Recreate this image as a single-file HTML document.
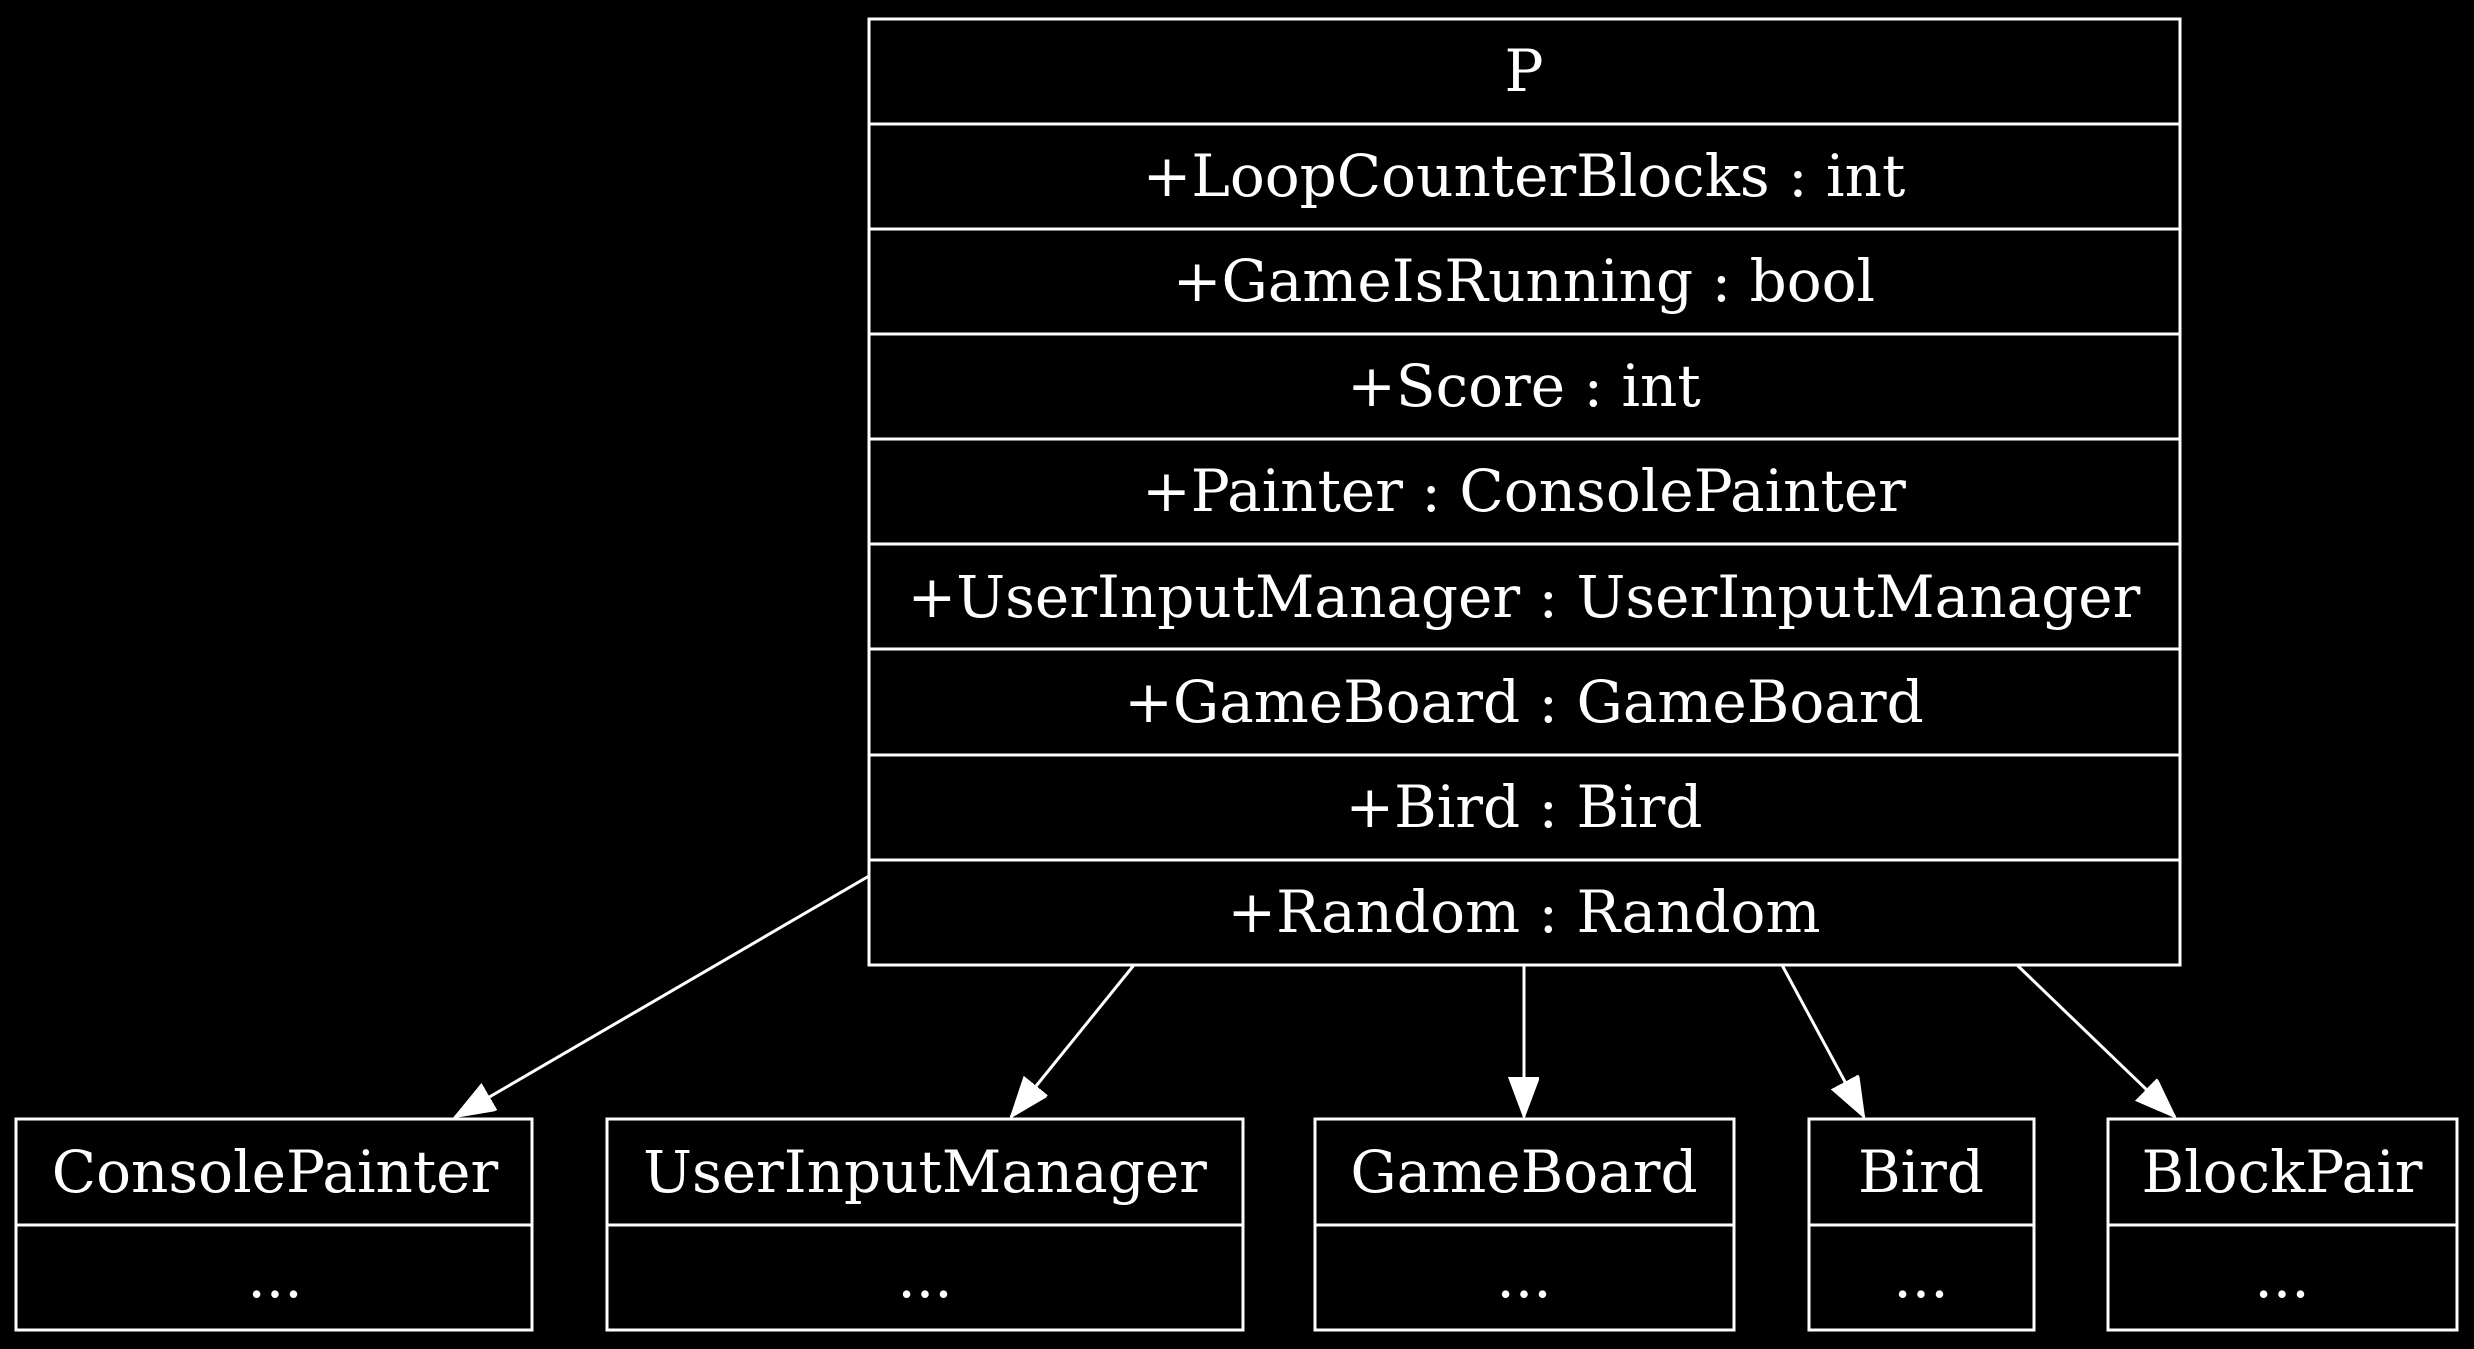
<!DOCTYPE html>
<html><head><meta charset="utf-8"><style>
html,body{margin:0;padding:0;background:#000;}
svg{display:block;}
text{font-family:"DejaVu Serif","Liberation Serif",serif;fill:#fff;font-size:58px;text-anchor:middle;}
</style></head><body>
<svg width="2474" height="1349" viewBox="0 0 2474 1349" xmlns="http://www.w3.org/2000/svg">
<rect width="2474" height="1349" fill="#000"/>
<defs>
<marker id="ah" markerUnits="userSpaceOnUse" markerWidth="44" markerHeight="34" refX="40" refY="15" orient="auto">
<path d="M0,0 L40,15 L0,30 Z" fill="#fff" stroke="#fff" stroke-width="2"/>
</marker>
</defs>
<g fill="none" stroke="#fff" stroke-width="3">
<rect x="869" y="19" width="1311" height="946"/>
<line x1="869" y1="124" x2="2180" y2="124"/>
<line x1="869" y1="229" x2="2180" y2="229"/>
<line x1="869" y1="334" x2="2180" y2="334"/>
<line x1="869" y1="439" x2="2180" y2="439"/>
<line x1="869" y1="544" x2="2180" y2="544"/>
<line x1="869" y1="649" x2="2180" y2="649"/>
<line x1="869" y1="755" x2="2180" y2="755"/>
<line x1="869" y1="860" x2="2180" y2="860"/>

<rect x="16" y="1119" width="516" height="211"/><line x1="16" y1="1225" x2="532" y2="1225"/>
<rect x="607" y="1119" width="636" height="211"/><line x1="607" y1="1225" x2="1243" y2="1225"/>
<rect x="1315" y="1119" width="419" height="211"/><line x1="1315" y1="1225" x2="1734" y2="1225"/>
<rect x="1809" y="1119" width="225" height="211"/><line x1="1809" y1="1225" x2="2034" y2="1225"/>
<rect x="2108" y="1119" width="349" height="211"/><line x1="2108" y1="1225" x2="2457" y2="1225"/>

<line x1="869" y1="876" x2="455" y2="1117" marker-end="url(#ah)"/>
<line x1="1134" y1="965" x2="1011" y2="1117" marker-end="url(#ah)"/>
<line x1="1524" y1="965" x2="1524" y2="1117" marker-end="url(#ah)"/>
<line x1="1782" y1="965" x2="1864" y2="1117" marker-end="url(#ah)"/>
<line x1="2017" y1="965" x2="2175" y2="1117" marker-end="url(#ah)"/>
</g>
<text x="1524" y="91">P</text>
<text x="1524" y="196">+LoopCounterBlocks : int</text>
<text x="1524" y="301">+GameIsRunning : bool</text>
<text x="1524" y="406">+Score : int</text>
<text x="1524" y="511">+Painter : ConsolePainter</text>
<text x="1524" y="617">+UserInputManager : UserInputManager</text>
<text x="1524" y="722">+GameBoard : GameBoard</text>
<text x="1524" y="827">+Bird : Bird</text>
<text x="1524" y="932">+Random : Random</text>

<text x="275" y="1192">ConsolePainter</text><text x="275" y="1297">...</text>
<text x="925" y="1192">UserInputManager</text><text x="925" y="1297">...</text>
<text x="1524" y="1192">GameBoard</text><text x="1524" y="1297">...</text>
<text x="1921" y="1192">Bird</text><text x="1921" y="1297">...</text>
<text x="2282" y="1192">BlockPair</text><text x="2282" y="1297">...</text>
</svg>
</body></html>
